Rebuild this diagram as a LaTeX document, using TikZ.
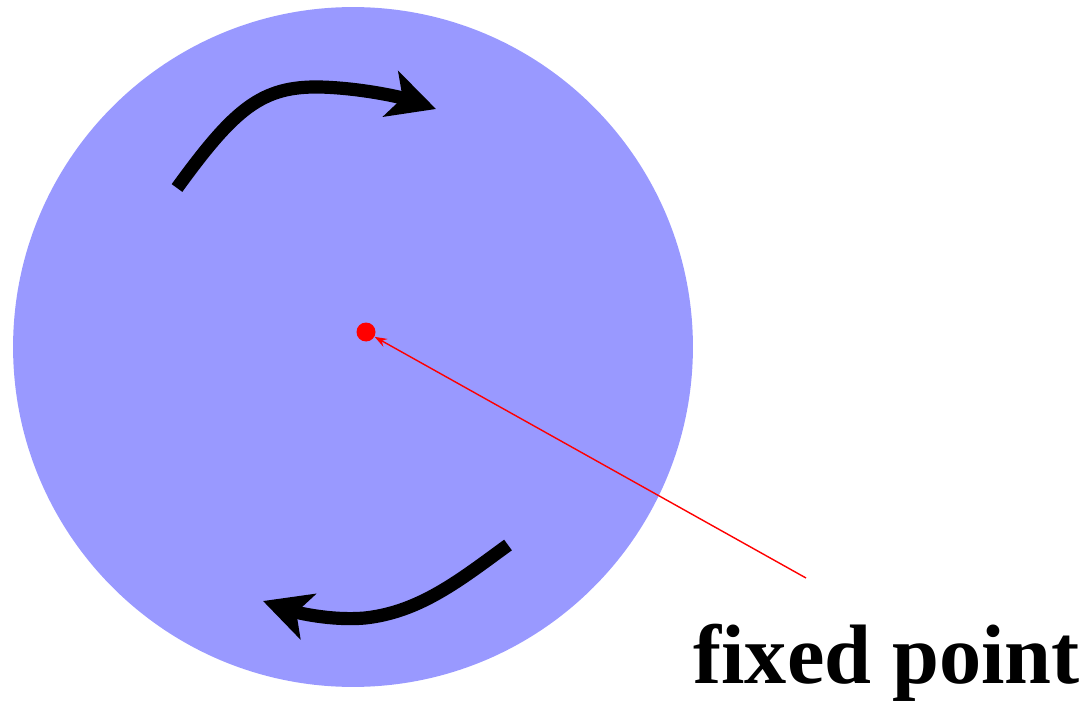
\documentclass[tikz,border=0pt]{standalone}
\usepackage{fontspec}
\setmainfont{Liberation Serif}[Ligatures=NoCommon]
\usetikzlibrary{positioning, arrows.meta}
\definecolor{diskblue}{RGB}{153,153,255}

\begin{document}
\begin{tikzpicture}[x=0.02cm, y=-0.02cm,
    turn/.style={line width=7.5pt, -{Stealth[length=27pt, width=27pt, inset=7pt]}},
    pointer/.style={red, line width=0.8pt, -{Stealth[length=7pt, width=5pt]}}]
    \useasboundingbox (0,0) rectangle (1092,706);
    % rotating disk and its fixed point
    \node[circle, fill=diskblue, inner sep=0, minimum size=13.6cm] (disk) at (353,347) {};
    \node[circle, fill=red, inner sep=0, minimum size=0.38cm] (fp) at (366,332) {};
    % rotation arrows
    \draw[turn] (177,188) .. controls (235,108) and (262,86) .. (320,87) .. controls (360,88) and (400,97) .. (436,109);
    \draw[turn] (508,545) .. controls (460,580) and (420,612) .. (365,618) .. controls (330,621) and (295,612) .. (263,601);
    % label
    \node[anchor=base west, font=\fontsize{48}{48}\selectfont\bfseries, inner sep=0] (lbl) at (693,683) {fixed point};
    \coordinate (tail) at (806,578);
    \draw[pointer] (tail) -- (fp);
\end{tikzpicture}
\end{document}
